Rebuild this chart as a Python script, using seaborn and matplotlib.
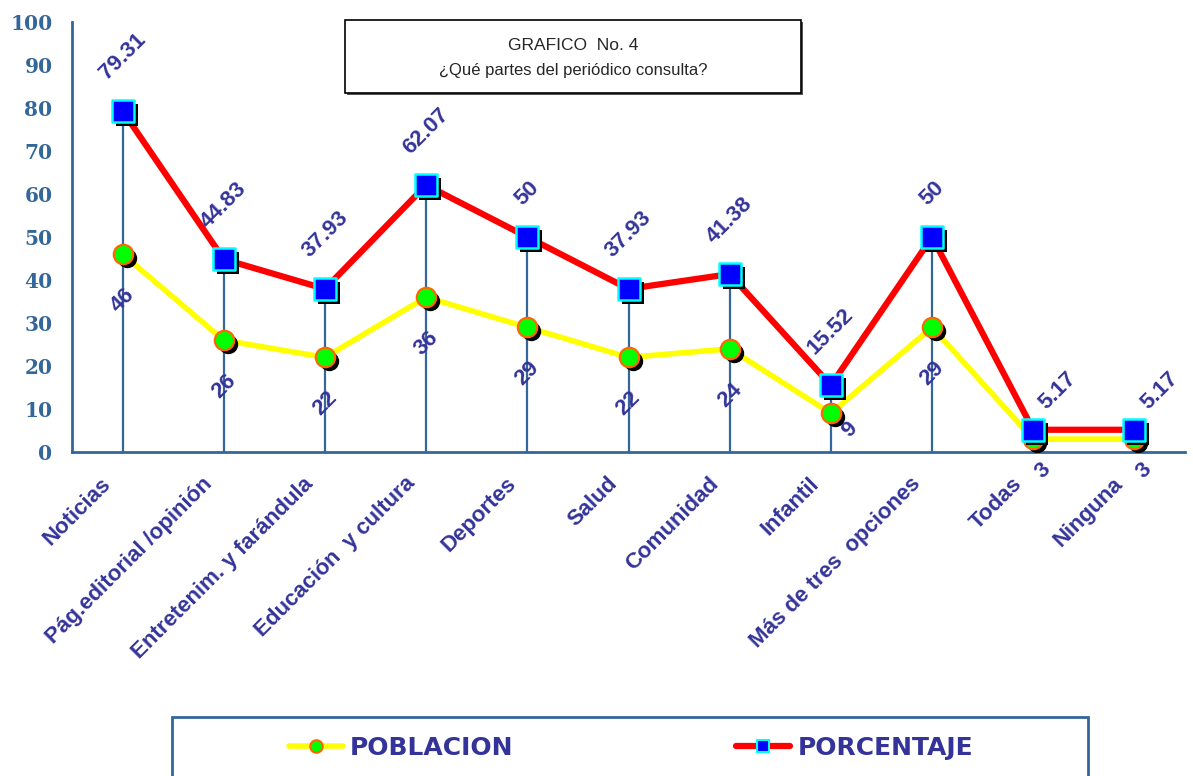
import numpy as np
import pandas as pd
import matplotlib
matplotlib.use("Agg")
import matplotlib.pyplot as plt
import matplotlib.transforms as mtransforms
from matplotlib.lines import Line2D
from matplotlib.patches import Rectangle
import seaborn as sns

# ---- data ----
categorias = [
    "Noticias", "Pág.editorial /opinión", "Entretenim. y farándula",
    "Educación  y cultura", "Deportes", "Salud", "Comunidad", "Infantil",
    "Más de tres  opciones", "Todas", "Ninguna",
]
poblacion = [46, 26, 22, 36, 29, 22, 24, 9, 29, 3, 3]
porcentaje = [79.31, 44.83, 37.93, 62.07, 50, 37.93, 41.38, 15.52, 50, 5.17, 5.17]
y_ticks = [0, 10, 20, 30, 40, 50, 60, 70, 80, 90, 100]
series = ["POBLACION", "PORCENTAJE"]
titulo = ["GRAFICO  No. 4", "¿Qué partes del periódico consulta?"]

# ---- styling ----
W, H = 1193, 776
AZUL_EJE = "#336699"
AZUL_TXT = "#333399"
AMARILLO, ROJO = "#FFFF00", "#FF0000"
VERDE, NARANJA = "#00FF00", "#FF6600"
AZUL, CIAN = "#0000FF", "#00FFFF"

sns.set_style("white")
plt.rcParams["font.family"] = ["Liberation Sans", "DejaVu Sans"]

fig = plt.figure(figsize=(W / 100, H / 100), dpi=100)
ax = fig.add_axes([72 / W, 1 - 452 / H, (1185 - 72) / W, 430 / H])

pos = np.arange(len(categorias))
df = pd.DataFrame({"pos": pos, "categoria": categorias,
                   series[0]: poblacion, series[1]: porcentaje})

# drop lines from each percentage point to the axis
ax.vlines(df["pos"], 0, df[series[1]], color=AZUL_EJE, lw=1.6, zorder=1)

# series lines
sns.lineplot(data=df, x="pos", y=series[0], ax=ax, color=AMARILLO, lw=4,
             sort=False, zorder=2)
sns.lineplot(data=df, x="pos", y=series[1], ax=ax, color=ROJO, lw=4.5,
             sort=False, zorder=3)

# markers with drop shadow
sombra = mtransforms.offset_copy(ax.transData, fig=fig, x=4, y=-4, units="dots")
sns.scatterplot(data=df, x="pos", y=series[0], ax=ax, marker="o", s=195,
                color="black", linewidth=0, transform=sombra, zorder=4)
sns.scatterplot(data=df, x="pos", y=series[0], ax=ax, marker="o", s=195,
                color=VERDE, edgecolor=NARANJA, linewidth=1.6, zorder=5)
sns.scatterplot(data=df, x="pos", y=series[1], ax=ax, marker="s", s=235,
                color="black", linewidth=0, transform=sombra, zorder=6)
sns.scatterplot(data=df, x="pos", y=series[1], ax=ax, marker="s", s=235,
                color=AZUL, edgecolor=CIAN, linewidth=1.8, zorder=7)

# value labels
txt_kw = dict(textcoords="offset pixels", rotation=45, fontsize=16,
              fontweight="bold", color=AZUL_TXT, zorder=8)
desp_pct = {9: (25, 16), 10: (25, 16)}
for xi, v in zip(pos, porcentaje):
    dx, dy = desp_pct.get(xi, (0, 27))
    ax.annotate(f"{v:g}", (xi, v), xytext=(dx, dy), ha="center", va="bottom", **txt_kw)
desp_pob = {7: (19, -5), 9: (10, -20), 10: (10, -20)}
for xi, v in zip(pos, poblacion):
    dx, dy = desp_pob.get(xi, (0, -30))
    ax.annotate(f"{v:g}", (xi, v), xytext=(dx, dy), ha="center", va="top", **txt_kw)

# axes
ax.set_xlim(-0.5, len(categorias) - 0.5)
ax.set_ylim(0, 100)
ax.set_xlabel("")
ax.set_ylabel("")
for s in ["top", "right"]:
    ax.spines[s].set_visible(False)
for s in ["left", "bottom"]:
    ax.spines[s].set_color(AZUL_EJE)
    ax.spines[s].set_linewidth(2)

ax.set_yticks(y_ticks)
ax.set_yticklabels([str(t) for t in y_ticks], family="DejaVu Serif",
                   fontweight="bold", fontsize=14.5, color=AZUL_EJE)
ax.tick_params(axis="y", direction="out", length=7, width=1.6, color=AZUL_EJE, pad=7)

ax.set_xticks(pos)
ax.set_xticks(np.arange(-0.5, len(categorias)), minor=True)
ax.set_xticklabels(categorias, rotation=45, ha="right", va="top",
                   rotation_mode="anchor", fontsize=16, fontweight="bold",
                   color=AZUL_TXT)
ax.tick_params(axis="x", which="both", direction="out", length=7, width=1.6,
               color=AZUL_EJE, pad=14)
corr = mtransforms.ScaledTranslation(-22 / 100, 8 / 100, fig.dpi_scale_trans)
for lab in ax.get_xticklabels():
    lab.set_transform(lab.get_transform() + corr)
ax.grid(False)

# title box
fig.patches.append(Rectangle(((345 + 2) / W, 1 - (93 + 2) / H), 456 / W, 73 / H,
                             transform=fig.transFigure, facecolor="#555555",
                             edgecolor="none", zorder=0))
fig.patches.append(Rectangle((345 / W, 1 - 93 / H), 456 / W, 73 / H,
                             transform=fig.transFigure, facecolor="white",
                             edgecolor="black", lw=1.2, zorder=1))
fig.text(573 / W, 1 - 45 / H, titulo[0], ha="center", va="center", fontsize=12.5,
         zorder=2)
fig.text(573 / W, 1 - 71 / H, titulo[1], ha="center", va="center", fontsize=12,
         zorder=2)

# legend box
fig.patches.append(Rectangle((172 / W, 1 - 790 / H), (1088 - 172) / W, 73 / H,
                             transform=fig.transFigure, facecolor="white",
                             edgecolor=AZUL_EJE, lw=2, zorder=0))
handles = [
    Line2D([], [], color=AMARILLO, lw=4, marker="o", ms=9,
           markerfacecolor=VERDE, markeredgecolor=NARANJA, markeredgewidth=1.5),
    Line2D([], [], color=ROJO, lw=4.5, marker="s", ms=9,
           markerfacecolor=AZUL, markeredgecolor=CIAN, markeredgewidth=1.5),
]
leg = fig.legend(handles, series, loc="center", ncol=2, frameon=False,
                 bbox_to_anchor=(631 / W, 1 - 748 / H), handlelength=2.15,
                 handletextpad=0.3, columnspacing=8.9,
                 prop=dict(family="DejaVu Sans", weight="bold", size=18))
for t in leg.get_texts():
    t.set_color(AZUL_TXT)

fig.savefig("out.png", dpi=100)
